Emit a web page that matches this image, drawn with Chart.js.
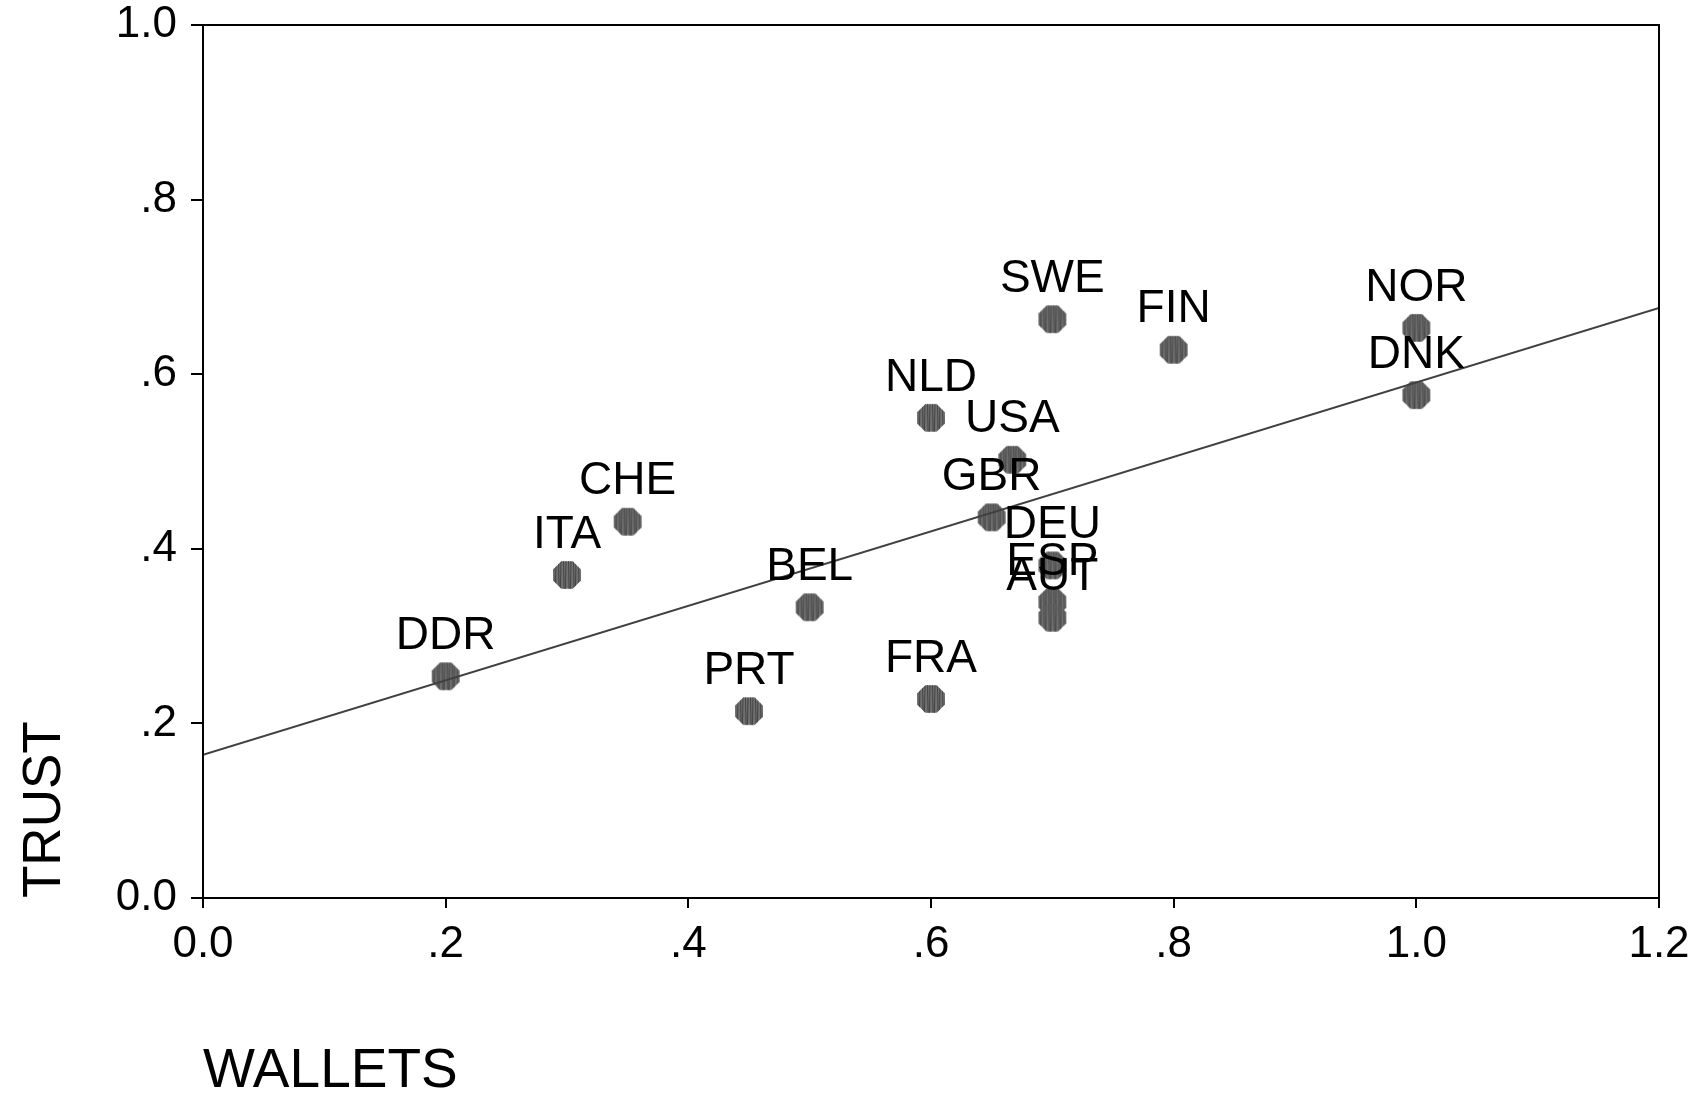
<!DOCTYPE html>
<html>
<head>
<meta charset="utf-8">
<script src="https://cdn.jsdelivr.net/npm/chart.js"></script>
<style>
  html, body { margin: 0; padding: 0; background: #fff; }
  #wrap { width: 1697px; height: 1099px; }
</style>
</head>
<body>
<div id="wrap"><canvas id="myChart" width="1697" height="1099"></canvas></div>

<script>
    // countries and their values
    let countries = ['DDR', 'ITA', 'CHE', 'PRT', 'BEL', 'FRA', 'NLD', 'GBR', 'USA', 'DEU', 'ESP', 'AUT', 'SWE', 'FIN', 'NOR', 'DNK'];
    let wallets   = [0.20, 0.30, 0.35, 0.45, 0.50, 0.60, 0.60, 0.65, 0.667, 0.70, 0.70, 0.70, 0.70, 0.80, 1.00, 1.00];
    let trust     = [0.254, 0.370, 0.431, 0.214, 0.333, 0.228, 0.550, 0.436, 0.502, 0.381, 0.339, 0.321, 0.663, 0.628, 0.653, 0.576];

    // fitted line end points
    let fitX = [0, 1.2];
    let fitY = [0.164, 0.676];

    let xTicks = [0, 0.2, 0.4, 0.6, 0.8, 1.0, 1.2];
    let yTicks = [0, 0.2, 0.4, 0.6, 0.8, 1.0];

    function tickText(v) {
        if (Math.abs(v) < 1e-9) return '0.0';
        if (Math.abs(v - 1) < 1e-9) return '1.0';
        if (Math.abs(v - 1.2) < 1e-9) return '1.2';
        return '.' + Math.round(v * 10);
    }

    // hatched octagon marker
    function makeMarker() {
        let c = document.createElement('canvas');
        c.width = 30; c.height = 30;
        let g = c.getContext('2d');
        let r = 14.8, cx = 15, cy = 15;
        g.beginPath();
        for (let i = 0; i < 8; i++) {
            let a = Math.PI / 8 + i * Math.PI / 4;
            let px = cx + r * Math.cos(a), py = cy + r * Math.sin(a);
            if (i === 0) g.moveTo(px, py); else g.lineTo(px, py);
        }
        g.closePath();
        g.fillStyle = '#707070';
        g.fill();
        g.save();
        g.clip();
        g.strokeStyle = '#444';
        g.lineWidth = 1;
        for (let x = 1.5; x < 30; x += 2.5) {
            g.beginPath();
            g.moveTo(x, 0);
            g.lineTo(x + (x % 5 < 2.5 ? 0.6 : -0.6), 30);
            g.stroke();
        }
        g.restore();
        return c;
    }
    let marker = makeMarker();

    const FONT = '"Liberation Sans", Arial, sans-serif';

    // frame around plot + country labels
    const extras = {
        id: 'extras',
        afterDatasetsDraw(chart) {
            let ctx = chart.ctx;
            let a = chart.chartArea;
            ctx.save();
            ctx.strokeStyle = '#000';
            ctx.lineWidth = 2;
            ctx.strokeRect(a.left, a.top, a.right - a.left, a.bottom - a.top);
            ctx.fillStyle = '#000';
            ctx.font = '46px ' + FONT;
            ctx.textAlign = 'center';
            ctx.textBaseline = 'middle';
            let meta = chart.getDatasetMeta(1);
            meta.data.forEach((el, i) => {
                ctx.fillText(countries[i], el.x, el.y - 40);
            });
            ctx.restore();
        }
    };

    var ctx = document.getElementById('myChart').getContext('2d');

    var myChart = new Chart(ctx, {
        type: 'scatter',
        data: {
            datasets: [{
                type: 'line',
                data: fitX.map((x, i) => ({ x: x, y: fitY[i] })),
                borderColor: '#404040',
                borderWidth: 2,
                pointRadius: 0,
                fill: false
            }, {
                data: wallets.map((w, i) => ({ x: w, y: trust[i] })),
                pointStyle: marker,
                pointRadius: 15
            }]
        },
        options: {
            responsive: false,
            animation: false,
            layout: { padding: { top: 25, right: 38, left: 0, bottom: 0 } },
            plugins: { legend: { display: false }, tooltip: { enabled: false } },
            scales: {
                x: {
                    type: 'linear',
                    min: 0, max: 1.2,
                    afterBuildTicks: s => { s.ticks = xTicks.map(v => ({ value: v })); },
                    afterFit: s => { s.height = 201; s.paddingLeft = 0; s.paddingRight = 0; },
                    grid: { display: true, drawOnChartArea: false, drawTicks: true, tickLength: 10, color: '#000', lineWidth: 2 },
                    border: { display: true, color: '#000', width: 2 },
                    ticks: {
                        callback: v => tickText(v),
                        color: '#000',
                        font: { family: FONT, size: 44 },
                        padding: 10,
                        maxRotation: 0
                    },
                    title: {
                        display: true,
                        text: 'WALLETS',
                        align: 'start',
                        color: '#000',
                        font: { family: FONT, size: 55, lineHeight: 1 },
                        padding: { top: 70, bottom: 0 }
                    }
                },
                y: {
                    type: 'linear',
                    min: 0, max: 1.0,
                    afterBuildTicks: s => { s.ticks = yTicks.map(v => ({ value: v })); },
                    afterFit: s => { s.width = 203; s.paddingTop = 0; s.paddingBottom = 0; },
                    grid: { display: true, drawOnChartArea: false, drawTicks: true, tickLength: 12, color: '#000', lineWidth: 2 },
                    border: { display: true, color: '#000', width: 2 },
                    ticks: {
                        callback: v => tickText(v),
                        color: '#000',
                        font: { family: FONT, size: 44 },
                        padding: 14
                    },
                    title: {
                        display: true,
                        text: 'TRUST',
                        align: 'start',
                        color: '#000',
                        font: { family: FONT, size: 53 },
                        padding: { top: 14, bottom: 0 }
                    }
                }
            }
        },
        plugins: [extras]
    });
</script>
</body>
</html>
